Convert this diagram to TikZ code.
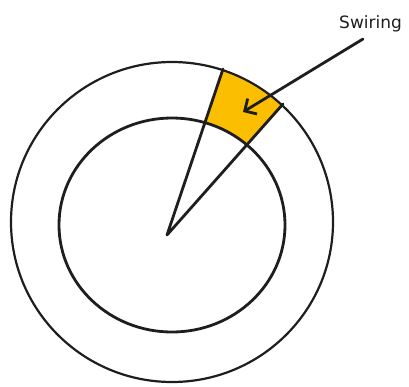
\documentclass[tikz,border=0pt]{standalone}
\usepackage{fontspec}
\setmainfont{DejaVu Sans}
\usetikzlibrary{arrows.meta,positioning,calc}
\definecolor{sInk}{RGB}{30,30,30}
\definecolor{sFill}{RGB}{252,190,0}

\begin{document}
\begin{tikzpicture}[
	x=1pt, y=-1pt,
	ring/.style={draw=sInk, line width=2.2pt},
	spoke/.style={draw=sInk, line width=2.8pt, line cap=round, line join=round},
	pointer/.style={draw=sInk, line width=2.8pt, line cap=round,
		-{Straight Barb[length=9pt,width=18pt,line width=2.8pt]}},
	tag/.style={font=\fontsize{17}{20}\selectfont, text=sInk, inner sep=0pt, anchor=base west}
	]
	\useasboundingbox (0,0) rectangle (409,386);
	\coordinate (c) at (172,222);
	\coordinate (apex) at (167,235);
	\coordinate (e1) at (223,69);
	\coordinate (e2) at (283,104);

	% shaded sector between the two rings
	\begin{scope}
		\clip (apex) -- ($(apex)!1.3!(e1)$) -- ($(apex)!1.3!(e2)$) -- cycle;
		\fill[sFill, even odd rule] (c) ellipse [x radius=161, y radius=160]
			(172,225) ellipse [x radius=113, y radius=107];
	\end{scope}

	\draw[ring] (c) ellipse [x radius=161, y radius=160];
	\draw[ring, line width=2.8pt] (172,225) ellipse [x radius=113, y radius=107];
	\draw[spoke] (e1) -- (apex) -- (e2);

	\node[tag] (lbl) at (339,28) {Swiring};
	\coordinate (from) at (363,39);
	\coordinate (tip) at (243,112);
	\draw[pointer] (from) -- (tip);
\end{tikzpicture}
\end{document}
